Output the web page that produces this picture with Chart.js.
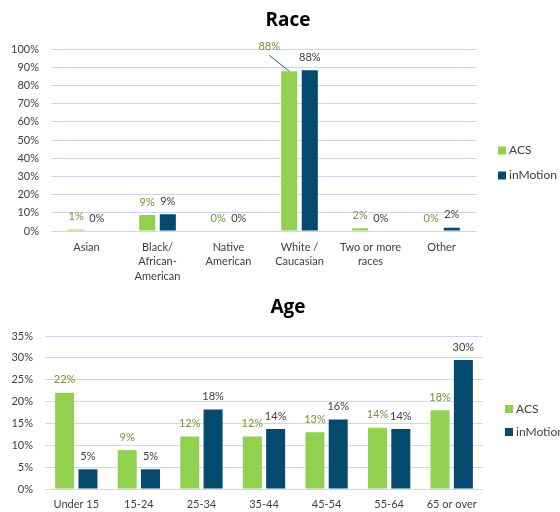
<!DOCTYPE html>
<html>
<head>
<meta charset="utf-8">
<script src="https://cdn.jsdelivr.net/npm/chart.js@4"></script>
<style>
  body { margin: 0; background: #fff; }
  canvas { position: absolute; left: 0; }
  #race-chart { top: 0; }
  #age-chart { top: 290px; }
</style>
</head>
<body>
<canvas id="race-chart" width="560" height="290"></canvas>
<canvas id="age-chart" width="560" height="222"></canvas>
<script>
// --- DATA ---
const seriesNames = ["ACS", "inMotion"];

const raceLabels = [["Asian"], ["Black/", "African-", "American"], ["Native", "American"], ["White /", "Caucasian"], ["Two or more", "races"], ["Other"]];
const raceAcs = [0.8, 8.8, 0, 87.8, 1.5, 0];
const raceInMotion = [0, 9.2, 0, 88.3, 0, 1.8];
const raceTicks = [0, 10, 20, 30, 40, 50, 60, 70, 80, 90, 100];

const ageLabels = ["Under 15", "15-24", "25-34", "35-44", "45-54", "55-64", "65 or over"];
const ageAcs = [22, 8.9, 12, 12, 13, 14, 18];
const ageInMotion = [4.5, 4.5, 18.2, 13.7, 15.9, 13.7, 29.5];
const ageTicks = [0, 5, 10, 15, 20, 25, 30, 35];

// --- STYLE ---
const FONT = "Lato, 'Noto Sans', sans-serif";
const GREEN = "#92D050";
const NAVY = "#044A6E";
const GREEN_TEXT = "#76923C";
const TEXT = "#404040";
const GRID = "#C9DAF0";

// --- PLUGINS ---
const titleAndLegend = {
  id: "titleAndLegend",
  afterDraw(chart, args, opts) {
    const c = chart.ctx;
    c.save();
    // title
    c.font = "bold 19px 'Open Sans', sans-serif";
    c.fillStyle = "#000";
    c.textAlign = "center";
    c.textBaseline = "alphabetic";
    c.fillText(opts.title, opts.titleX, opts.titleY);
    // legend
    c.font = "12px " + FONT;
    c.textAlign = "left";
    c.textBaseline = "middle";
    chart.data.datasets.forEach((ds, i) => {
      const y = opts.legendY + i * opts.legendGap;
      c.fillStyle = ds.backgroundColor;
      c.fillRect(opts.legendX, y - 4, 8, 8);
      c.fillStyle = TEXT;
      c.fillText(ds.label, opts.legendX + 11, y);
    });
    c.restore();
  }
};

const valueLabels = {
  id: "valueLabels",
  afterDatasetsDraw(chart, args, opts) {
    const c = chart.ctx;
    c.save();
    c.font = "11px " + FONT;
    c.textAlign = "center";
    c.textBaseline = "middle";
    chart.data.datasets.forEach((ds, di) => {
      chart.getDatasetMeta(di).data.forEach((bar, i) => {
        const txt = Math.round(ds.data[i]) + "%";
        c.fillStyle = di === 0 ? GREEN_TEXT : TEXT;
        const co = (opts.callouts || []).find(k => k.dataset === di && k.index === i);
        if (co) {
          const lx = bar.x + co.dx, ly = bar.y + co.dy;
          c.fillText(txt, lx, ly);
          c.strokeStyle = "#2F5597";
          c.lineWidth = 1;
          c.beginPath();
          c.moveTo(lx, ly + 9);
          c.lineTo(bar.x, bar.y);
          c.stroke();
        } else {
          c.fillText(txt, bar.x, bar.y - 13);
        }
      });
    });
    c.restore();
  }
};

// --- CHART BUILDER ---
function makeChart(id, labels, acs, inMotion, ticks, cfg) {
  return new Chart(document.getElementById(id), {
    type: "bar",
    data: {
      labels,
      datasets: [
        { label: seriesNames[0], data: acs, backgroundColor: GREEN, barPercentage: cfg.bp, categoryPercentage: cfg.cp },
        { label: seriesNames[1], data: inMotion, backgroundColor: NAVY, barPercentage: cfg.bp, categoryPercentage: cfg.cp }
      ]
    },
    options: {
      responsive: false,
      animation: false,
      devicePixelRatio: 1,
      layout: { padding: { left: 0, right: cfg.padRight, top: cfg.padTop, bottom: 0 } },
      plugins: {
        legend: { display: false },
        tooltip: { enabled: false },
        titleAndLegend: cfg.deco,
        valueLabels: { callouts: cfg.callouts || [] }
      },
      scales: {
        x: {
          grid: { display: false, drawTicks: false },
          border: { display: false },
          ticks: { color: TEXT, font: { family: FONT, size: 11, lineHeight: 1.32 }, padding: cfg.xPad, maxRotation: 0, autoSkip: false },
          afterFit: s => { s.height = cfg.xHeight; }
        },
        y: {
          min: ticks[0],
          max: ticks[ticks.length - 1],
          afterBuildTicks: s => { s.ticks = ticks.map(v => ({ value: v })); },
          grid: { color: GRID, drawTicks: false },
          border: { display: false },
          ticks: { color: TEXT, font: { family: FONT, size: 11 }, padding: 12, callback: v => v + "%" },
          afterFit: s => { s.width = cfg.yWidth; }
        }
      }
    },
    plugins: [titleAndLegend, valueLabels]
  });
}

makeChart("race-chart", raceLabels, raceAcs, raceInMotion, raceTicks, {
  bp: 0.78, cp: 0.58, padRight: 83, padTop: 49, xHeight: 59, xPad: 9, yWidth: 51,
  deco: { title: "Race", titleX: 288, titleY: 26, legendX: 498, legendY: 150.5, legendGap: 25 },
  callouts: [{ dataset: 0, index: 3, dx: -20, dy: -25 }]
});

makeChart("age-chart", ageLabels, ageAcs, ageInMotion, ageTicks, {
  bp: 0.815, cp: 0.745, padRight: 77, padTop: 46, xHeight: 23, xPad: 8, yWidth: 45,
  deco: { title: "Age", titleX: 288, titleY: 22.7, legendX: 505, legendY: 119, legendGap: 23 }
});
</script>
</body>
</html>
